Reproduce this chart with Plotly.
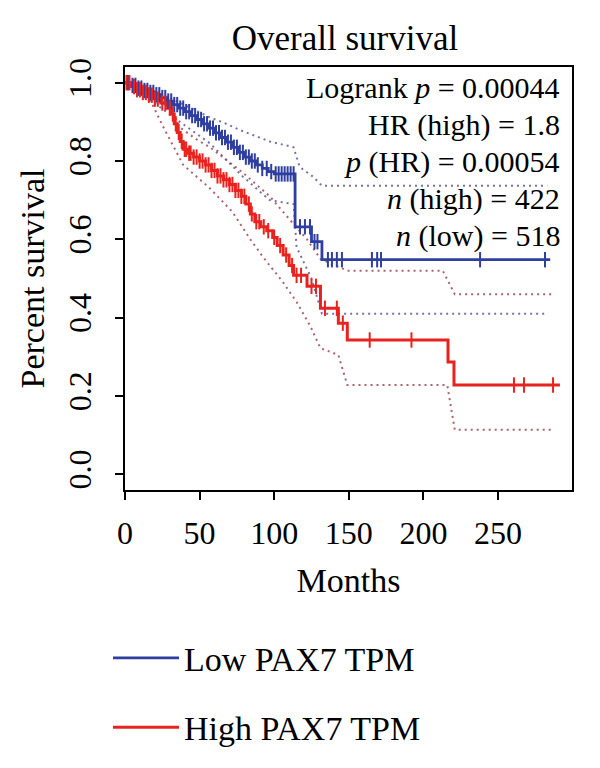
import numpy as np
import plotly.graph_objects as go

# ---- Kaplan-Meier step data (months, survival) ----
low_t = [0, 4, 8, 12, 16, 20, 24, 28, 32, 36, 40, 44, 48, 52, 56, 60, 64, 68, 72, 76,
         80, 84, 88, 92, 96, 100, 114, 125, 132, 285]
low_s = [1.0, 0.993, 0.986, 0.98, 0.975, 0.969, 0.962, 0.953, 0.944, 0.935, 0.926, 0.916,
         0.906, 0.895, 0.884, 0.872, 0.86, 0.848, 0.835, 0.822, 0.81, 0.8, 0.79, 0.781,
         0.773, 0.767, 0.632, 0.594, 0.548, 0.548]

high_t = [0, 4, 8, 12, 16, 20, 24, 28, 31, 33, 35, 37, 39, 42, 46, 50, 54, 58, 62, 66,
          70, 74, 78, 81, 84, 87, 91, 95, 99, 102, 106, 110, 113, 122, 131, 143, 149,
          216.5, 220.5, 291.5]
high_s = [1.0, 0.99, 0.982, 0.975, 0.968, 0.958, 0.948, 0.935, 0.92, 0.895, 0.873, 0.85,
          0.83, 0.82, 0.81, 0.8, 0.79, 0.776, 0.762, 0.752, 0.74, 0.725, 0.71, 0.69, 0.665,
          0.645, 0.632, 0.622, 0.605, 0.584, 0.56, 0.533, 0.508, 0.48, 0.424, 0.386, 0.343,
          0.287, 0.228, 0.228]

# censored observation times
low_cens = [2, 5, 7, 9, 11, 13, 15, 17, 19, 21, 23, 25, 27, 29, 31, 33, 35, 37, 39, 41,
            43, 45, 47, 49, 51, 53, 55, 57, 59, 61, 63, 65, 67, 69, 71, 73, 75, 77, 79, 81,
            83, 85, 87, 89, 92, 95, 98, 101, 103, 105, 107, 109, 111, 113, 117.3, 120.6,
            124, 127, 129, 136, 138.7, 142, 145.4, 165.5, 169, 171.6, 238, 281.5]
high_cens = [1, 3, 6, 8, 10, 12, 14, 16, 18, 20, 22, 25, 27, 30, 32, 34, 36, 38, 40, 41,
             43, 44, 46, 48, 50, 52, 54, 56, 58, 60, 62, 64, 66, 68, 70, 72, 74, 76, 78, 80,
             83, 85, 88, 90, 93, 96, 100, 104, 108, 112, 115, 118, 125, 128, 134, 142, 146,
             164, 192, 260.7, 267.4, 286.9]

# 95% confidence bands (dotted)
low_up_t = [0, 12, 35, 57, 66, 79, 97, 113, 117, 126, 132, 283]
low_up_s = [1.0, 0.99, 0.952, 0.911, 0.898, 0.876, 0.85, 0.835, 0.785, 0.76, 0.737, 0.737]
low_lo_t = [0, 19, 35, 57, 79, 97, 113, 115, 125, 132, 283]
low_lo_s = [1.0, 0.95, 0.905, 0.845, 0.76, 0.70, 0.69, 0.58, 0.50, 0.41, 0.41]
high_up_t = [0, 17, 28, 37, 48, 57, 79, 97, 115, 122, 131, 143, 149, 213, 221, 288]
high_up_s = [1.0, 0.985, 0.955, 0.885, 0.855, 0.835, 0.77, 0.71, 0.63, 0.60, 0.55, 0.53,
             0.52, 0.52, 0.46, 0.46]
high_lo_t = [0, 17, 25.5, 39, 57, 72, 84, 92.5, 106, 115, 124, 131, 143, 149, 216, 221, 288]
high_lo_s = [1.0, 0.955, 0.888, 0.79, 0.73, 0.67, 0.60, 0.555, 0.49, 0.44, 0.38, 0.322,
             0.305, 0.228, 0.228, 0.114, 0.114]

x_ticks = [0, 50, 100, 150, 200, 250]
y_ticks = [0.0, 0.2, 0.4, 0.6, 0.8, 1.0]
y_tick_text = ["0.0", "0.2", "0.4", "0.6", "0.8", "1.0"]

stats_lines = ["Logrank <i>p</i> = 0.00044", "HR (high) = 1.8", "<i>p</i> (HR) = 0.00054",
               "<i>n</i> (high) = 422", "<i>n</i> (low) = 518"]

title_text = "Overall survival"
x_title = "Months"
y_title = "Percent survival"
low_name = "Low PAX7 TPM"
high_name = "High PAX7 TPM"

BLUE = "#2f3f9f"
RED = "#e8231f"
BLUE_CI = "rgba(90,90,150,0.85)"
RED_CI = "rgba(160,70,80,0.85)"
FONT = "Liberation Serif"


def km_at(times, surv, q):
    t = np.asarray(times)
    s = np.asarray(surv)
    idx = np.searchsorted(t, np.asarray(q), side="right") - 1
    return s[idx]


fig = go.Figure()

# confidence bands
for tt, ss, col in [(low_up_t, low_up_s, BLUE_CI), (low_lo_t, low_lo_s, BLUE_CI),
                    (high_up_t, high_up_s, RED_CI), (high_lo_t, high_lo_s, RED_CI)]:
    fig.add_trace(go.Scatter(x=tt, y=ss, mode="lines", showlegend=False, hoverinfo="skip",
                             line=dict(color=col, width=2, dash="2px,4px")))

# KM curves
fig.add_trace(go.Scatter(x=low_t, y=low_s, mode="lines", name=low_name, legendgroup="low",
                         line=dict(color=BLUE, width=2.8, shape="hv")))
fig.add_trace(go.Scatter(x=high_t, y=high_s, mode="lines", name=high_name, legendgroup="high",
                         line=dict(color=RED, width=3, shape="hv")))

# censor marks
fig.add_trace(go.Scatter(x=low_cens, y=km_at(low_t, low_s, low_cens), mode="markers",
                         showlegend=False, legendgroup="low",
                         marker=dict(symbol="line-ns-open", size=11, color=BLUE,
                                     line=dict(color=BLUE, width=2))))
fig.add_trace(go.Scatter(x=high_cens, y=km_at(high_t, high_s, high_cens), mode="markers",
                         showlegend=False, legendgroup="high",
                         marker=dict(symbol="line-ns-open", size=11, color=RED,
                                     line=dict(color=RED, width=2))))

# layout geometry (pixels)
L, R, T, B = 125, 572, 67, 492
W, H = 600, 768

ann = []
for i, txt in enumerate(stats_lines):
    py = 88 + i * 37.2
    ann.append(dict(text=txt, xref="paper", yref="paper", x=(562 - L) / (R - L),
                    y=(B - py) / (B - T), xanchor="right", yanchor="middle",
                    showarrow=False, font=dict(family=FONT, size=30, color="black")))

axis_common = dict(showline=True, linecolor="black", linewidth=1.5, mirror=True,
                   ticks="outside", ticklen=8, tickwidth=1.5, tickcolor="black",
                   showgrid=False, zeroline=False,
                   tickfont=dict(family=FONT, size=32, color="black"))

fig.update_layout(
    width=W, height=H,
    margin=dict(l=L, r=W - R, t=T, b=H - B),
    paper_bgcolor="white", plot_bgcolor="white",
    font=dict(family=FONT, color="black"),
    title=dict(text=title_text, xref="container", yref="container", x=345 / W,
               y=1 - 38 / H, xanchor="center", yanchor="middle",
               font=dict(family=FONT, size=35, color="black")),
    xaxis=dict(range=[0, 299.6], tickvals=x_ticks, ticklabelstandoff=6,
               title=dict(text=x_title, standoff=18,
                          font=dict(family=FONT, size=34, color="black")),
               **axis_common),
    yaxis=dict(range=[-0.04, 1.04], tickvals=y_ticks, ticktext=y_tick_text, tickangle=-90,
               ticklabelstandoff=11,
               title=dict(text=y_title, standoff=8,
                          font=dict(family=FONT, size=34, color="black")),
               **axis_common),
    legend=dict(x=(108 - L) / (R - L), y=-(632 - B) / (B - T), xanchor="left", yanchor="top",
                font=dict(family=FONT, size=34, color="black"), itemwidth=66,
                tracegroupgap=22, traceorder="grouped", bgcolor="rgba(0,0,0,0)"),
    annotations=ann,
    showlegend=True,
)

fig.write_html("out.html")
